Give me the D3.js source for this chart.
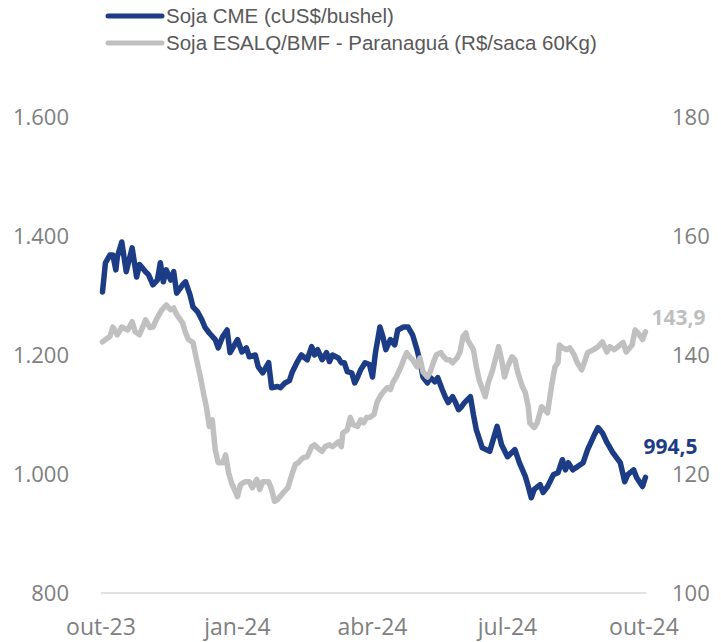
<!DOCTYPE html>
<html>
<head>
    <meta charset="utf-8">
    <title>Soja CME x ESALQ</title>
    <script src="https://cdnjs.cloudflare.com/ajax/libs/d3/7.8.5/d3.min.js"></script>
    <style>
        body { margin: 0; background: #fff; }
        .axis-label { font-family: "Open Sans", sans-serif; font-size: 22px; fill: #808080; }
        .legend-text { font-family: "Liberation Sans", Arial, sans-serif; font-size: 20.5px; fill: #595959; }
        .end-label { font-family: "Open Sans", sans-serif; font-size: 21px; font-weight: bold; }
    </style>
</head>
<body>
    <div id="chart"></div>
    <script>
        // Soja CME (cUS$/bushel) - left axis
        const cmeDates = [
            '2023-10-02','2023-10-04','2023-10-07','2023-10-09','2023-10-11','2023-10-12','2023-10-15','2023-10-18',
            '2023-10-22','2023-10-25','2023-10-27','2023-10-31','2023-11-02','2023-11-05','2023-11-08','2023-11-10',
            '2023-11-12','2023-11-14','2023-11-17','2023-11-19','2023-11-21','2023-11-25','2023-11-27','2023-11-30',
            '2023-12-02','2023-12-05','2023-12-08','2023-12-10','2023-12-13','2023-12-17','2023-12-19','2023-12-22',
            '2023-12-25','2023-12-27','2024-01-01','2024-01-04','2024-01-07','2024-01-09','2024-01-13','2024-01-15',
            '2024-01-18','2024-01-22','2024-01-24','2024-01-28','2024-01-30','2024-02-02','2024-02-05','2024-02-07',
            '2024-02-10','2024-02-13','2024-02-17','2024-02-20','2024-02-22','2024-02-24','2024-02-27','2024-03-01',
            '2024-03-03','2024-03-05','2024-03-09','2024-03-11','2024-03-13','2024-03-15','2024-03-18','2024-03-20',
            '2024-03-22','2024-03-24','2024-03-27','2024-03-30','2024-04-01','2024-04-03','2024-04-06','2024-04-08',
            '2024-04-10','2024-04-13','2024-04-16','2024-04-18','2024-04-22','2024-04-25','2024-04-28','2024-05-01',
            '2024-05-03','2024-05-05','2024-05-08','2024-05-10','2024-05-13','2024-05-15','2024-05-18','2024-05-20',
            '2024-05-22','2024-05-25','2024-05-27','2024-05-29','2024-05-31','2024-06-02','2024-06-06','2024-06-08',
            '2024-06-10','2024-06-14','2024-06-19','2024-06-24','2024-06-27','2024-07-01','2024-07-06','2024-07-09',
            '2024-07-13','2024-07-15','2024-07-17','2024-07-19','2024-07-23','2024-07-25','2024-07-28','2024-08-01',
            '2024-08-04','2024-08-07','2024-08-09','2024-08-11','2024-08-14','2024-08-17','2024-08-21','2024-08-24',
            '2024-08-28','2024-08-31','2024-09-03','2024-09-06','2024-09-10','2024-09-15','2024-09-18','2024-09-20',
            '2024-09-24','2024-09-26','2024-09-30','2024-10-02'
        ];
        const cmeValues = [
            1306, 1355, 1368, 1368, 1343, 1365, 1390, 1340,
            1380, 1331, 1352, 1340, 1335, 1318, 1326, 1355,
            1323, 1343, 1326, 1340, 1304, 1318, 1323, 1301,
            1281, 1273, 1259, 1247, 1237, 1226, 1212, 1231,
            1242, 1204, 1226, 1205, 1212, 1197, 1200, 1180,
            1170, 1187, 1145, 1147, 1145, 1153, 1157, 1172,
            1187, 1200, 1192, 1214, 1200, 1209, 1192, 1204,
            1189, 1200, 1195, 1187, 1187, 1172, 1170, 1153,
            1163, 1175, 1187, 1184, 1163, 1204, 1247, 1231,
            1209, 1226, 1217, 1242, 1247, 1247, 1234, 1209,
            1189, 1163, 1153, 1162, 1155, 1162, 1142, 1130,
            1120, 1130, 1120, 1108, 1113, 1120, 1130, 1100,
            1074, 1044, 1038, 1080, 1049, 1029, 1041, 1019,
            996, 979, 960, 974, 982, 969, 979, 999,
            1002, 1024, 1007, 1019, 1007, 1012, 1019, 1041,
            1063, 1078, 1069, 1053, 1036, 1019, 987, 999,
            1007, 994, 979, 994.5
        ];

        // Soja ESALQ/BMF - Paranaguá (R$/saca 60Kg) - right axis
        const esalqDates = [
            '2023-10-02','2023-10-04','2023-10-07','2023-10-09','2023-10-12','2023-10-15','2023-10-19','2023-10-22',
            '2023-10-24','2023-10-27','2023-10-31','2023-11-03','2023-11-05','2023-11-08','2023-11-11','2023-11-14',
            '2023-11-17','2023-11-19','2023-11-21','2023-11-25','2023-11-27','2023-11-29','2023-12-02','2023-12-04',
            '2023-12-07','2023-12-09','2023-12-11','2023-12-13','2023-12-15','2023-12-17','2023-12-19','2023-12-22',
            '2023-12-24','2023-12-26','2023-12-28','2024-01-01','2024-01-03','2024-01-06','2024-01-09','2024-01-11',
            '2024-01-14','2024-01-16','2024-01-18','2024-01-22','2024-01-24','2024-01-26','2024-01-28','2024-02-01',
            '2024-02-04','2024-02-07','2024-02-09','2024-02-11','2024-02-14','2024-02-17','2024-02-20','2024-02-22',
            '2024-02-24','2024-02-27','2024-02-29','2024-03-03','2024-03-05','2024-03-09','2024-03-11','2024-03-12',
            '2024-03-15','2024-03-17','2024-03-19','2024-03-22','2024-03-24','2024-03-26','2024-03-28','2024-03-30',
            '2024-04-02','2024-04-04','2024-04-06','2024-04-08','2024-04-11','2024-04-13','2024-04-15','2024-04-17',
            '2024-04-20','2024-04-22','2024-04-24','2024-04-26','2024-04-28','2024-05-01','2024-05-03','2024-05-05',
            '2024-05-08','2024-05-10','2024-05-12','2024-05-14','2024-05-17','2024-05-19','2024-05-21','2024-05-23',
            '2024-05-25','2024-05-28','2024-05-30','2024-06-01','2024-06-03','2024-06-04','2024-06-08','2024-06-10',
            '2024-06-12','2024-06-16','2024-06-18','2024-06-21','2024-06-25','2024-06-27','2024-06-29','2024-07-01',
            '2024-07-04','2024-07-06','2024-07-08','2024-07-11','2024-07-13','2024-07-15','2024-07-16','2024-07-19',
            '2024-07-21','2024-07-24','2024-07-26','2024-07-28','2024-07-31','2024-08-02','2024-08-04','2024-08-05',
            '2024-08-07','2024-08-10','2024-08-12','2024-08-15','2024-08-17','2024-08-20','2024-08-22','2024-08-24',
            '2024-08-28','2024-08-31','2024-09-03','2024-09-06','2024-09-08','2024-09-11','2024-09-15','2024-09-17',
            '2024-09-19','2024-09-23','2024-09-25','2024-09-27','2024-09-30','2024-10-02'
        ];
        const esalqValues = [
            142.2, 142.6, 143.1, 144.7, 143.4, 144.7, 144.2, 145.6,
            143.9, 143.4, 145.9, 144.6, 144.7, 146.3, 147.6, 148.4,
            147.6, 147.9, 146.8, 145.4, 143.7, 142.6, 142.1, 139.7,
            136.3, 133.7, 131.3, 128.0, 129.1, 124.1, 121.9, 121.9,
            123.2, 120.2, 118.5, 116.2, 118.2, 118.7, 118.7, 117.7,
            119.1, 117.4, 118.7, 118.7, 117.4, 115.4, 115.7, 116.9,
            117.7, 120.2, 121.6, 121.9, 122.7, 122.9, 124.6, 124.9,
            124.4, 123.8, 124.6, 124.9, 124.6, 125.4, 124.6, 126.9,
            127.4, 129.5, 128.3, 128.0, 129.1, 128.6, 129.5, 129.5,
            130.0, 132.0, 133.0, 133.7, 134.5, 134.2, 135.5, 136.3,
            137.9, 139.2, 140.4, 139.7, 139.2, 138.0, 139.5, 137.2,
            136.3, 137.2, 138.7, 140.0, 140.4, 139.7, 139.2, 139.2,
            138.7, 139.5, 140.5, 143.1, 143.7, 142.6, 140.9, 138.0,
            135.7, 133.0, 135.3, 137.5, 141.4, 139.2, 136.3, 138.0,
            139.7, 139.2, 137.0, 134.7, 133.7, 131.3, 128.6, 127.8,
            128.6, 131.3, 130.8, 130.3, 135.3, 138.0, 138.7, 141.7,
            141.2, 140.9, 141.2, 140.0, 138.7, 137.5, 138.9, 140.4,
            140.9, 141.4, 142.2, 140.5, 141.4, 140.9, 141.7, 142.1,
            140.5, 141.7, 144.2, 143.7, 142.6, 143.9
        ];

        const leftTicks = [800, 1000, 1200, 1400, 1600];
        const rightTicks = [100, 120, 140, 160, 180];
        const xTickDates = ['2023-10-01', '2024-01-01', '2024-04-01', '2024-07-01', '2024-10-01'];
        const xTickLabels = ['out-23', 'jan-24', 'abr-24', 'jul-24', 'out-24'];
        const seriesNames = ['Soja CME (cUS$/bushel)', 'Soja ESALQ/BMF - Paranaguá (R$/saca 60Kg)'];
        const endLabels = ['994,5', '143,9'];

        const width = 721, height = 642;
        const blue = '#1c3d85', grey = '#c0c0c0';

        const parse = d3.timeParse('%Y-%m-%d');
        const ptBR = d3.formatLocale({ decimal: ',', thousands: '.', grouping: [3], currency: ['R$', ''] });
        const fmtLeft = ptBR.format(',.0f');

        const svg = d3.select('#chart').append('svg')
            .attr('width', width)
            .attr('height', height);

        const x = d3.scaleTime()
            .domain([parse('2023-10-01'), parse('2024-10-01')])
            .range([101, 644]);

        const yLeft = d3.scaleLinear().domain([800, 1600]).range([593, 117]);
        const yRight = d3.scaleLinear().domain([100, 180]).range([593, 117]);

        // baseline
        svg.append('line')
            .attr('x1', x.range()[0])
            .attr('x2', x.range()[1] + 2)
            .attr('y1', yLeft(800))
            .attr('y2', yLeft(800))
            .attr('stroke', '#d9d9d9')
            .attr('stroke-width', 1.5);

        // left axis labels
        svg.append('g').selectAll('text')
            .data(leftTicks)
            .join('text')
            .attr('class', 'axis-label')
            .attr('x', 69)
            .attr('y', d => yLeft(d))
            .attr('dy', '0.35em')
            .attr('text-anchor', 'end')
            .text(d => fmtLeft(d));

        // right axis labels
        svg.append('g').selectAll('text')
            .data(rightTicks)
            .join('text')
            .attr('class', 'axis-label')
            .attr('x', 672)
            .attr('y', d => yRight(d))
            .attr('dy', '0.35em')
            .attr('text-anchor', 'start')
            .text(d => d);

        // x axis labels
        svg.append('g').selectAll('text')
            .data(xTickDates)
            .join('text')
            .attr('class', 'axis-label')
            .attr('x', d => x(parse(d)))
            .attr('y', 635)
            .attr('text-anchor', 'middle')
            .style('font-size', '23px')
            .text((d, i) => xTickLabels[i]);

        const cme = cmeDates.map((d, i) => ({ date: parse(d), value: cmeValues[i] }));
        const esalq = esalqDates.map((d, i) => ({ date: parse(d), value: esalqValues[i] }));

        const lineLeft = d3.line().x(d => x(d.date)).y(d => yLeft(d.value));
        const lineRight = d3.line().x(d => x(d.date)).y(d => yRight(d.value));

        svg.append('path')
            .datum(cme)
            .attr('d', lineLeft)
            .attr('fill', 'none')
            .attr('stroke', blue)
            .attr('stroke-width', 5.5)
            .attr('stroke-linejoin', 'round')
            .attr('stroke-linecap', 'round');

        svg.append('path')
            .datum(esalq)
            .attr('d', lineRight)
            .attr('fill', 'none')
            .attr('stroke', grey)
            .attr('stroke-width', 5.5)
            .attr('stroke-linejoin', 'round')
            .attr('stroke-linecap', 'round');

        // end labels
        const lastCme = cme[cme.length - 1];
        const lastEsalq = esalq[esalq.length - 1];
        svg.append('text')
            .attr('class', 'end-label')
            .attr('x', x(lastCme.date) - 2)
            .attr('y', yLeft(lastCme.value) - 30)
            .attr('dy', '0.32em')
            .attr('fill', blue)
            .text(endLabels[0]);
        svg.append('text')
            .attr('class', 'end-label')
            .attr('x', x(lastEsalq.date) + 6)
            .attr('y', yRight(lastEsalq.value) - 14)
            .attr('dy', '0.35em')
            .attr('fill', '#bfbfbf')
            .text(endLabels[1]);

        // legend
        const legend = svg.append('g');
        [blue, grey].forEach((c, i) => {
            const ly = 16 + i * 27;
            legend.append('line')
                .attr('x1', 108).attr('x2', 162)
                .attr('y1', ly).attr('y2', ly)
                .attr('stroke', c)
                .attr('stroke-width', 5)
                .attr('stroke-linecap', 'round');
            legend.append('text')
                .attr('class', 'legend-text')
                .attr('x', 166)
                .attr('y', ly)
                .attr('dy', '0.35em')
                .text(seriesNames[i]);
        });
    </script>
</body>
</html>
